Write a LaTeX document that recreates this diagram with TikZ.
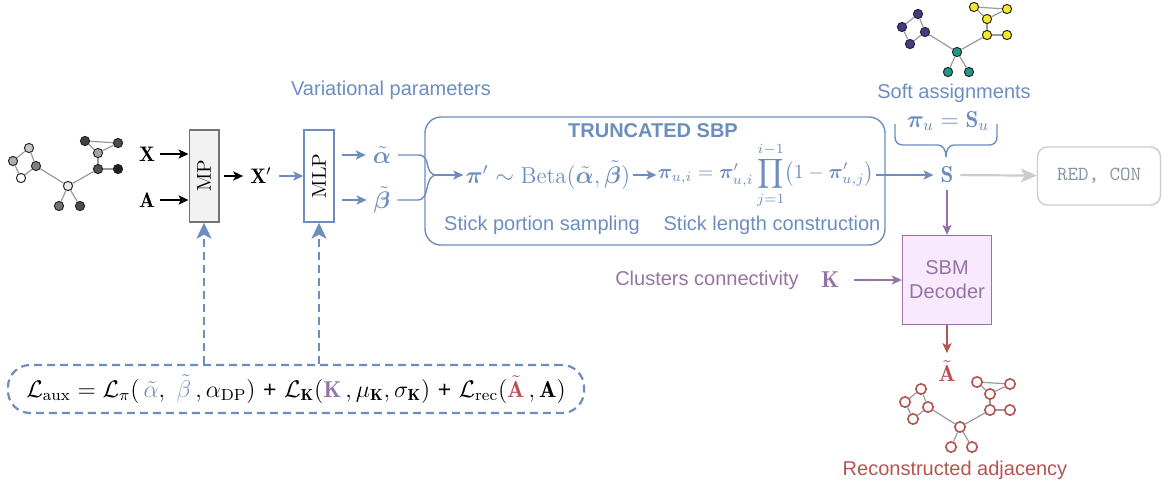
\documentclass[tikz,border=0pt]{standalone}
\usepackage{amsmath}
\usepackage{amssymb}
\usepackage{bm}
\usepackage{xcolor}
\usepackage{graphicx}
\usepackage{fontspec}
\setsansfont{Liberation Sans}
\usepackage{tikz}
\usetikzlibrary{positioning}
\usetikzlibrary{calc}
\usetikzlibrary{arrows.meta}

\definecolor{dioblue}{HTML}{6C8EBF}
\definecolor{diopurple}{HTML}{9673A6}
\definecolor{diored}{HTML}{B85450}
\definecolor{decfill}{HTML}{F8EAFC}
\definecolor{lightline}{HTML}{CCCCCC}
\definecolor{ttgray}{HTML}{8A96A3}
\definecolor{vpurple}{HTML}{433D85}
\definecolor{vteal}{HTML}{21998A}
\definecolor{vyellow}{HTML}{F9E72A}

\tikzset{
  gnode/.style={circle,draw=black!85,line width=0.5pt,inner sep=0pt,minimum size=4.6pt},
  gedge/.style={draw=black!40,line width=0.6pt},
  sftxt/.style={font=\sffamily\fontsize{10}{12}\selectfont},
  smalltxt/.style={font=\fontsize{10.5}{12}\selectfont},
  bluetxt/.style={text=dioblue},
  blackarr/.style={-{Stealth[length=5pt,width=4.6pt,inset=1.2pt]},line width=0.7pt},
  bluearr/.style={blackarr,draw=dioblue},
  blueline/.style={draw=dioblue,line width=0.7pt},
  purparr/.style={blackarr,draw=diopurple},
  redarr/.style={blackarr,draw=diored},
  grayarr/.style={-{Stealth[length=8pt,width=7pt,inset=2pt]},draw=lightline,line width=1.1pt},
  dasharr/.style={-{Stealth[length=8pt,width=7.5pt,inset=2pt]},draw=dioblue,line width=1.1pt,dash pattern=on 4pt off 2.5pt},
  encbox/.style={draw=black!55,fill=black!5,line width=0.7pt,minimum width=14.8pt,minimum height=46pt,inner sep=0pt,font=\fontsize{10}{12}\selectfont},
  mlpbox/.style={draw=dioblue,fill=white,line width=0.7pt,minimum width=15pt,minimum height=46pt,inner sep=0pt,font=\fontsize{10}{12}\selectfont},
  sbpbox/.style={draw=dioblue,line width=0.7pt,rounded corners=8pt,minimum width=230pt,minimum height=64pt},
  outbox/.style={draw=lightline,line width=0.7pt,rounded corners=5pt,minimum width=61.5pt,minimum height=29pt,font=\fontsize{10}{12}\selectfont},
  decbox/.style={draw=diopurple,fill=decfill,line width=0.7pt,minimum width=42.5pt,minimum height=44.5pt,align=center,text=diopurple},
  lossbox/.style={draw=dioblue,line width=1.1pt,dash pattern=on 4pt off 2.5pt,rounded corners=11pt,minimum width=288pt,minimum height=24pt}
}

% small example graph: prefix, centre, node options, name/colour pairs
\newcommand{\toygraph}[4]{%
  \begin{scope}[shift={#2}]
    \foreach \n/\x/\y in {a/-39/-38,b/-55/-25,c/-32/-20,d/-47/-8,e/0/0,f/-9/20,g/12/20,h/30/-17,i/50/-17,j/30/-33,k/17/-45,l/50/-43}
      \coordinate (#1-\n) at (\x,\y);
    \foreach \n/\c in {#4}
      \node[gnode,#3,fill=\c] (#1\n) at (#1-\n) {};
    \foreach \u/\v in {a/b,b/d,d/c,c/a,c/e,e/f,e/g,e/h,h/i,h/j,j/k,j/l,k/l}
      \draw[gedge] (#1\u) -- (#1\v);
  \end{scope}}

\begin{document}
\begin{tikzpicture}[x=0.5pt,y=-0.5pt,font=\fontsize{11.5}{14}\selectfont]
\useasboundingbox (0,0) rectangle (1162,489);

\toygraph{L}{(68,186)}{}{a/black!22,b/black!32,c/black!50,d/white,e/black!8,f/black!55,g/black!70,h/black!68,i/black!88,j/black!35,k/black!75,l/black!70}
\toygraph{T}{(957,52)}{}{a/vpurple,b/vpurple,c/vpurple,d/vpurple,e/vteal,f/vteal,g/vteal,h/vyellow,i/vyellow,j/vyellow,k/vyellow,l/vyellow}
\toygraph{B}{(960,427)}{draw=diored,line width=0.8pt,minimum size=5.2pt}{a/white,b/white,c/white,d/white,e/white,f/white,g/white,h/white,i/white,j/white,k/white,l/white}

\node[smalltxt,inner sep=2.5pt] (x) at (147,154) {$\mathbf{X}$};
\node[smalltxt,inner sep=2.5pt] (a) at (147,200) {$\mathbf{A}$};
\node[encbox] (mp) at (204,176) {\rotatebox{90}{MP}};
\node[smalltxt] (xp) at (261,176) {$\mathbf{X}'$};
\node[mlpbox] (mlp) at (319,176) {\rotatebox{90}{MLP}};
\node[bluetxt] (al) at (382,155) {$\tilde{\bm\alpha}$};
\node[bluetxt] (be) at (382,200) {$\tilde{\bm\beta}$};
\node[sftxt,bluetxt] (var) at (391,90) {Variational parameters};

\draw[blackarr] (x) -- (x -| mp.west);
\draw[blackarr] (a) -- (a -| mp.west);
\draw[blackarr,shorten <=2pt] (mp) -- (xp);
\draw[bluearr] (xp) -- (mlp);
\draw[bluearr,shorten <=3.5pt] (al -| mlp.east) -- (al);
\draw[bluearr,shorten <=3.5pt] (be -| mlp.east) -- (be);

\node[sbpbox] (sbp) at (655,181) {};
\node[sftxt,bluetxt,font=\sffamily\bfseries\fontsize{10}{12}\selectfont,inner sep=1pt] (sbptitle) at (653,131) {TRUNCATED SBP};
\coordinate (merge) at (437,175);
\node[bluetxt,inner sep=1pt] (pip) at (548,175) {$\bm\pi' \sim \mathrm{Beta}(\tilde{\bm\alpha},\tilde{\bm\beta})$};
\node[bluetxt,inner sep=0.5pt,font=\fontsize{10.3}{12}\selectfont] (pui) at (766,175) {$\bm\pi_{u,i} = \bm\pi'_{u,i}\displaystyle\prod_{j=1}^{i-1}\bigl(1-\bm\pi'_{u,j}\bigr)$};
\node[sftxt,bluetxt] (sps) at (542,225) {Stick portion sampling};
\node[sftxt,bluetxt] (slc) at (772,225) {Stick length construction};

\draw[blueline] (al.east) -- ++(20,0) .. controls +(14,0) and +(-14,0) .. (merge);
\draw[blueline] (be.east) -- ++(20,0) .. controls +(14,0) and +(-14,0) .. (merge);
\draw[bluearr] (merge) -- (pip);
\draw[bluearr] (pip) -- (pui);

\node[bluetxt] (s) at (947,175) {$\mathbf{S}$};
\node[bluetxt,inner sep=1pt] (piu) at (948,121) {$\bm\pi_u = \mathbf{S}_u$};
\node[sftxt,bluetxt] (soft) at (954,93) {Soft assignments};
\coordinate (bracetip) at (946,157);
\draw[blueline] (895,124) -- (895,137) .. controls (895,142) and (898,145) .. (903,145) -- (938,145) .. controls (943,145) and (946,150) .. (bracetip);
\draw[blueline] (997,124) -- (997,137) .. controls (997,142) and (994,145) .. (989,145) -- (954,145) .. controls (949,145) and (946,150) .. (bracetip);
\draw[bluearr] (pui) -- (s);

\node[outbox] (redcon) at (1099,176) {\ttfamily\color{ttgray}RED, CON};
\draw[grayarr] (s) -- (redcon);

\node[decbox,sftxt] (dec) at (947,280) {SBM\\Decoder};
\node[text=diopurple] (kk) at (830,280) {$\mathbf{K}$};
\node[sftxt,text=diopurple] (clu) at (707,280) {Clusters connectivity};
\draw[purparr] (s) -- (dec);
\draw[purparr,shorten <=4pt] (kk) -- (dec);

\node[text=diored] (at) at (947,371) {$\tilde{\mathbf{A}}$};
\node[sftxt,text=diored] (rec) at (955,470) {Reconstructed adjacency};
\draw[redarr] (dec) -- (at);

\node[lossbox] (loss) at (296,389) {$\mathcal{L}_{\mathrm{aux}} = \mathcal{L}_{\pi}(\,\textcolor{dioblue}{\tilde{\alpha}},\ \textcolor{dioblue}{\tilde{\beta}}\,, \alpha_{\mathrm{DP}})$ \textsf{+} $\mathcal{L}_{\mathbf{K}}(\textcolor{diopurple}{\mathbf{K}}\,, \mu_{\mathbf{K}}, \sigma_{\mathbf{K}})$ \textsf{+} $\mathcal{L}_{\mathrm{rec}}(\textcolor{diored}{\tilde{\mathbf{A}}}\,, \mathbf{A})$};
\draw[dasharr] (loss.north -| mp) -- (mp.south);
\draw[dasharr] (loss.north -| mlp) -- (mlp.south);
\end{tikzpicture}
\end{document}
